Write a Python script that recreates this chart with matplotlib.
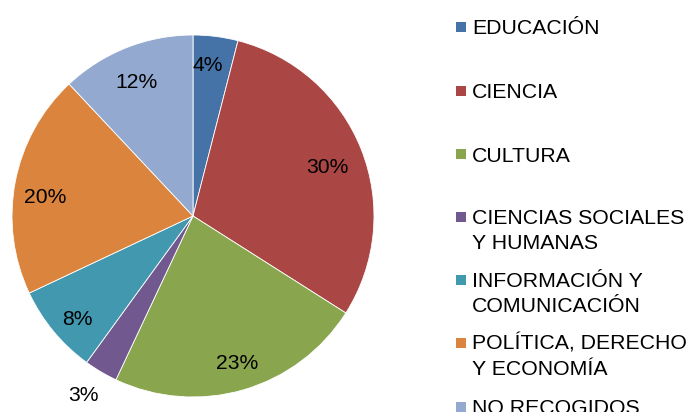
import matplotlib
matplotlib.use("Agg")
import matplotlib.pyplot as plt
from matplotlib.patches import Rectangle
import numpy as np

plt.rcParams['font.family'] = ['Liberation Sans', 'DejaVu Sans']

categories = ["EDUCACIÓN", "CIENCIA", "CULTURA", "CIENCIAS SOCIALES\nY HUMANAS",
              "INFORMACIÓN Y\nCOMUNICACIÓN", "POLÍTICA, DERECHO\nY ECONOMÍA", "NO RECOGIDOS"]
values = [4, 30, 23, 3, 8, 20, 12]
colors = ["#4572A7", "#AA4643", "#89A54E", "#71588F", "#4198AF", "#DB843D", "#93A9CF"]

# label placement (style): radial distance and pixel nudges (dx right, dy down)
label_dist = [0.82, 0.82, 0.82, 1.16, 0.82, 0.82, 0.82]
label_nudge = [(-3.5, -3), (-4, 6), (2.5, 5), (-3, -1), (-1.5, 9), (-2, 9), (-1.5, 4)]

W, H = 688, 412
fig = plt.figure(figsize=(W / 100, H / 100), dpi=100)

cx, cy, r = 193, 216, 181
ax = fig.add_axes([(cx - r) / W, (H - cy - r) / H, 2 * r / W, 2 * r / H])
wedges, texts, autotexts = ax.pie(values, colors=colors, startangle=90, counterclock=False,
                                  autopct=lambda p: f"{p:.0f}%", pctdistance=0.82,
                                  wedgeprops=dict(edgecolor="white", linewidth=0.6),
                                  textprops=dict(fontsize=15.2, color="black"))
ax.set_xlim(-1, 1)
ax.set_ylim(-1, 1)
ax.set_aspect("equal")
ax.axis("off")

for w, t, d, (nx, ny) in zip(wedges, autotexts, label_dist, label_nudge):
    ang = np.deg2rad((w.theta1 + w.theta2) / 2)
    t.set_position((d * np.cos(ang) + nx / r, d * np.sin(ang) - ny / r))

# legend
sq_centers = [26.5, 90.5, 154, 216.5, 279.5, 342.5, 406.5]
for lab, col, yc in zip(categories, colors, sq_centers):
    fig.add_artist(Rectangle((456 / W, (H - yc - 5) / H), 10 / W, 10 / H,
                             transform=fig.transFigure, facecolor=col, edgecolor="none"))
    for i, line in enumerate(lab.split("\n")):
        yb = yc + 7.5 + i * 25
        fig.text(472 / W, (H - yb) / H, line, fontsize=15.3, va="baseline", ha="left", color="black")

fig.savefig("out.png", dpi=100)
